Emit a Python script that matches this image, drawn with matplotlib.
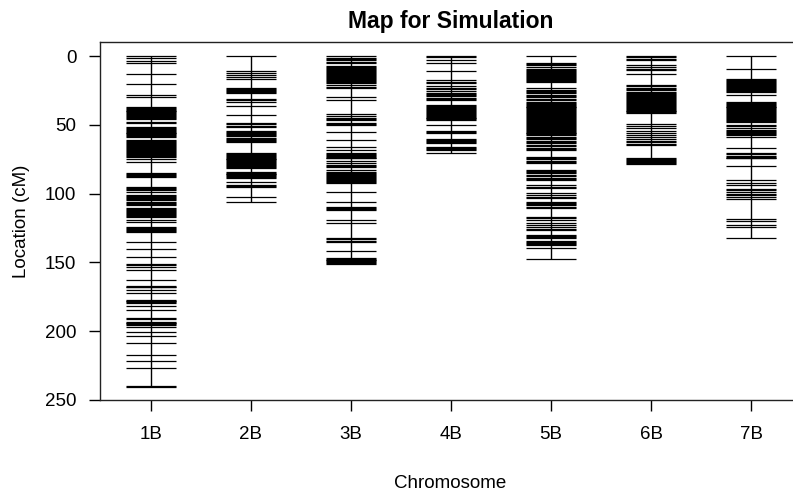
import matplotlib
matplotlib.use("Agg")
import matplotlib.pyplot as plt

plt.rcParams['font.family'] = ['Liberation Sans', 'DejaVu Sans']

chromosomes = ["1B", "2B", "3B", "4B", "5B", "6B", "7B"]

# marker positions (cM)
m1B = [0, 1.7, 3.4, 5.3, 13.1, 20.6, 28.3, 29.6,
       36.8, 37.5, 38.2, 38.9, 39.6, 40.3, 41.0, 41.7, 42.4, 43.1, 43.8, 44.5, 45.2, 46.0,
       47.7, 48.9,
       51.4, 52.1, 52.8, 53.5, 54.2, 54.9, 55.6, 56.3, 57.0, 57.7, 58.4, 59.1,
       61.0, 61.7, 62.4, 63.1, 63.8, 64.5, 65.2, 65.9,
       67.0, 67.7, 68.4, 69.1, 69.8, 70.5, 71.2, 71.9, 72.6, 73.3,
       75.0, 76.8,
       85.3, 86.0, 86.7, 87.4, 88.1,
       95.0, 95.8, 96.6, 97.4, 98.6,
       101.0, 101.7, 102.4, 103.1, 103.9, 104.6,
       105.9, 106.7, 107.5, 108.3,
       110.7, 111.4, 112.1, 112.8, 113.5, 114.2, 114.9, 115.6, 116.3, 116.8,
       119.0, 120.4,
       124.0, 124.7, 125.4, 126.1, 126.9, 127.7,
       134.9, 140.5, 145.8, 151.0, 152.0, 153.0, 155.5, 162.8,
       167.0, 167.7, 168.2, 170.0, 172.5,
       177.0, 177.7, 178.4, 179.1, 179.8, 182.0, 184.6,
       190.6, 191.5, 193.0, 193.7, 194.4, 195.1, 195.8, 196.7,
       200.3, 203.5, 208.8, 217.0, 222.0, 227.0, 239.5, 240.2]
m2B = [0, 11.0, 12.5, 14.0, 15.5, 17.0,
       23.5, 24.2, 24.9, 25.6, 26.3, 27.1, 31.5, 32.3, 33.2, 36.3, 42.9,
       48.4, 49.5, 50.5, 51.4,
       54.3, 55.0, 55.7, 56.4, 57.1, 57.8, 59.5, 60.2, 60.9, 61.6, 62.3,
       70.3, 71.0, 71.7, 72.4, 73.1, 73.8, 74.5, 75.2, 75.9, 76.6, 77.3, 78.0,
       78.7, 79.4, 80.1, 80.8, 81.6,
       84.0, 84.7, 85.4, 86.1, 86.8, 87.5, 88.2, 88.9,
       91.3, 93.8, 94.6, 95.4, 102.2, 106.3]
m3B = [0, 1.2, 2.2, 3.2, 4.2, 5.3,
       7.3, 8.0, 8.7, 9.4, 10.1, 10.8, 11.5, 12.2, 12.9, 13.6, 14.3, 15.0, 15.7,
       16.4, 17.1, 17.9, 18.7,
       19.9, 21.0, 22.3, 23.5, 29.6, 32.0, 42.0, 43.5, 45.0, 45.7, 46.4,
       48.5, 49.3, 50.0, 55.0, 61.0, 66.0, 68.5,
       70.3, 71.0, 71.7, 72.4, 73.1, 73.8, 74.4, 76.0, 77.5, 79.0, 79.7, 80.4,
       82.8, 84.0, 85.3, 86.0, 86.7, 87.4, 88.1, 88.8, 89.5, 90.2, 90.9, 91.6, 92.5,
       98.6, 105.9, 109.5, 110.3, 111.1, 112.0, 119.0, 121.6,
       132.5, 133.3, 134.1, 134.9, 142.0,
       146.5, 147.2, 147.9, 148.6, 149.3, 150.0, 150.7, 151.5]
m4B = [0, 1.0, 2.9, 4.8, 10.7, 17.4, 18.6, 19.9,
       21.8, 23.0, 24.2, 25.4, 26.6, 27.8, 28.6, 29.4, 30.2, 31.1, 32.0,
       35.6, 36.3, 37.0, 37.7, 38.4, 39.1, 39.8, 40.5, 41.2, 41.9, 42.6, 43.3,
       44.0, 44.7, 45.4, 46.0, 46.5,
       50.1, 54.3, 55.0, 55.7, 60.6, 61.3, 62.0, 62.8, 63.5,
       65.9, 66.7, 67.5, 68.3, 70.3]
m5B = [0, 4.8, 5.8, 6.8, 7.8,
       9.7, 10.4, 11.1, 11.8, 12.5, 13.2, 13.9, 14.6, 15.3, 16.0, 16.7, 17.4, 18.0, 18.7,
       23.5, 24.4, 25.3, 26.2, 27.1, 28.3, 29.1, 30.0, 31.0, 32.0,
       33.2, 33.9, 34.6, 35.3, 36.0, 36.7, 37.4, 38.1, 38.8, 39.5, 40.2, 40.9,
       41.6, 42.3, 43.0, 43.7, 44.4, 45.1, 45.8, 46.5, 47.2, 47.9, 48.6, 49.3,
       50.0, 50.7, 51.4, 52.1, 52.8, 53.5, 54.2, 54.9, 55.6, 56.3, 57.0, 57.4,
       58.6, 59.6, 60.6, 61.6, 62.4, 63.2, 64.5, 65.5, 66.5, 67.5, 68.3,
       73.2, 74.0, 75.0, 76.0, 77.0, 78.0,
       82.8, 83.5, 84.2, 85.0, 86.5, 87.5, 88.4, 89.2, 90.1,
       93.8, 95.0, 96.2, 99.8, 101.0, 102.2, 103.4,
       105.9, 106.7, 107.5, 108.3, 109.5, 110.7, 116.8, 118.0, 119.2,
       121.6, 123.0, 124.4, 125.5, 126.5,
       130.0, 130.7, 131.4, 132.1, 134.5, 135.3, 136.0, 136.7, 137.4,
       139.8, 147.5]
m6B = [0, 1.0, 2.0, 3.0, 6.5, 8.0, 9.2, 10.2, 13.1,
       21.0, 22.0, 23.0, 24.0, 25.0, 26.0,
       27.0, 27.7, 28.4, 29.1, 29.8, 30.5, 31.2, 31.9, 32.6, 33.3, 34.0, 34.7,
       35.4, 36.1, 36.8, 37.5, 38.2, 38.9, 39.6, 40.3, 41.0, 41.7,
       49.4, 51.0, 52.5, 54.3, 56.2, 57.5, 59.0, 60.5, 61.5, 62.5, 63.6, 64.7,
       74.4, 75.1, 75.8, 76.5, 77.2, 77.9, 78.5]
m7B = [0, 9.4,
       17.0, 17.7, 18.4, 19.1, 19.8, 20.5, 21.2, 21.9, 22.6, 23.3, 24.0, 24.7, 25.4, 26.0,
       28.3,
       33.2, 33.9, 34.6, 35.3, 36.0, 36.7, 37.4, 38.1, 38.8, 39.5, 40.2, 40.9,
       41.6, 42.3, 43.0, 43.7, 44.4, 45.1, 45.8, 46.5, 47.2, 47.7,
       50.0, 51.0, 52.0, 53.5, 54.3, 55.0, 55.8, 56.6, 57.6, 58.6,
       67.0, 70.7, 71.5, 72.3, 73.1, 73.8, 74.4, 80.0,
       90.0, 92.0, 93.5, 96.5, 97.5, 98.5, 100.0, 101.2, 102.4, 104.0,
       118.7, 119.7, 122.8, 124.0, 132.0]
markers = [m1B, m2B, m3B, m4B, m5B, m6B, m7B]

fig = plt.figure(figsize=(7.93, 4.97), dpi=100)
ax = fig.add_axes([0.1261, 0.1952, 0.884, 0.7203])

for i, pos in enumerate(markers):
    xc = i + 1
    ax.vlines(xc, 0, max(pos), color='black', lw=1.0)
    ax.hlines(pos, xc - 0.25, xc + 0.25, color='black', lw=0.9)

ax.set_xlim(0.49, 7.5)
ax.set_ylim(250, -10.2)
ax.set_xticks(range(1, len(chromosomes) + 1))
ax.set_xticklabels(chromosomes)
ax.set_yticks([0, 50, 100, 150, 200, 250])
ax.tick_params(axis='both', length=8, width=1.0, labelsize=13.5, colors='black')
ax.tick_params(axis='y', pad=9)
ax.tick_params(axis='x', pad=11)
for s in ax.spines.values():
    s.set_linewidth(1.0)
    s.set_color('#222222')

ax.set_title("Map for Simulation", fontsize=16.5, fontweight='bold', pad=10)
ax.set_xlabel("Chromosome", fontsize=13.5, labelpad=23)
ax.set_ylabel("Location (cM)", fontsize=13.5, labelpad=11)

fig.savefig("out.png", dpi=100)
